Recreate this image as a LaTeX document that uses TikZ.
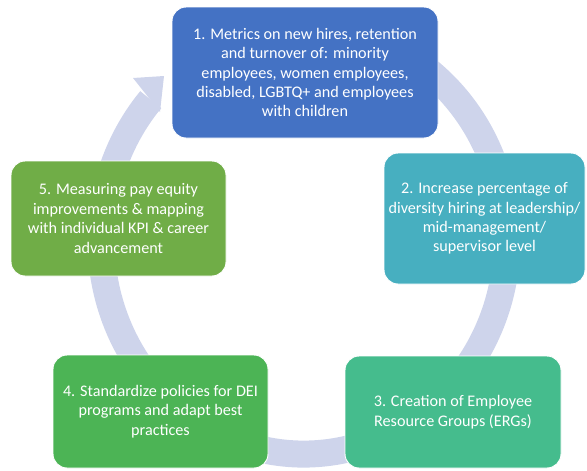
\documentclass[tikz,border=0pt]{standalone}
\usepackage{fontspec}
\setmainfont{Carlito}
\usepackage{tikz}
\usetikzlibrary{shapes,arrows}

\definecolor{metricsblue}{HTML}{4472C4}
\definecolor{hiringteal}{HTML}{47AFC0}
\definecolor{ergteal}{HTML}{45BC8D}
\definecolor{policygreen}{HTML}{4CB455}
\definecolor{paygreen}{HTML}{70AD47}
\definecolor{ringgray}{HTML}{CED4EB}

\begin{document}
\begin{tikzpicture}[x=0.03cm,y=-0.03cm]
\tikzstyle{stage} = [rectangle, draw=white, line width=0.8pt, rounded corners=12pt,
                     text=white, align=center, inner sep=2pt,
                     font=\fontsize{13.8pt}{16.6pt}\selectfont]
\tikzstyle{ring}=[draw=ringgray,
                                    line width=0.81cm]
\useasboundingbox (0,0) rectangle (587,470);
% the cycle behind the boxes
\draw[ring] (268.7,29.3) arc[start angle=-100, end angle=221, x radius=203, y radius=214];
\fill[ringgray] (133,78) -- (164,76) -- (160,112) -- cycle;
% the five steps
\node[stage, fill=metricsblue, minimum width=266*0.03cm, minimum height=131*0.03cm] (METRICS) at (305,72.5)
  {1. Metrics on new hires, retention\\and turnover of: minority\\employees, women employees,\\disabled, LGBTQ+ and employees\\with children};
\node[stage, fill=hiringteal, minimum width=201*0.03cm, minimum height=131*0.03cm] (HIRING) at (484.5,218.5)
  {2. Increase percentage of\\diversity hiring at leadership/\\mid-management/\\supervisor level};
\node[stage, fill=ergteal, minimum width=216*0.03cm, minimum height=112*0.03cm] (ERG) at (453,412)
  {3. Creation of Employee\\Resource Groups (ERGs)};
\node[stage, fill=policygreen, minimum width=215*0.03cm, minimum height=113*0.03cm] (POLICY) at (160.5,411.5)
  {4. Standardize policies for DEI\\programs and adapt best\\practices};
\node[stage, fill=paygreen, minimum width=215*0.03cm, minimum height=115*0.03cm] (PAY) at (118.5,218.5)
  {5. Measuring pay equity\\improvements \& mapping\\with individual KPI \& career\\advancement};
\end{tikzpicture}
\end{document}
